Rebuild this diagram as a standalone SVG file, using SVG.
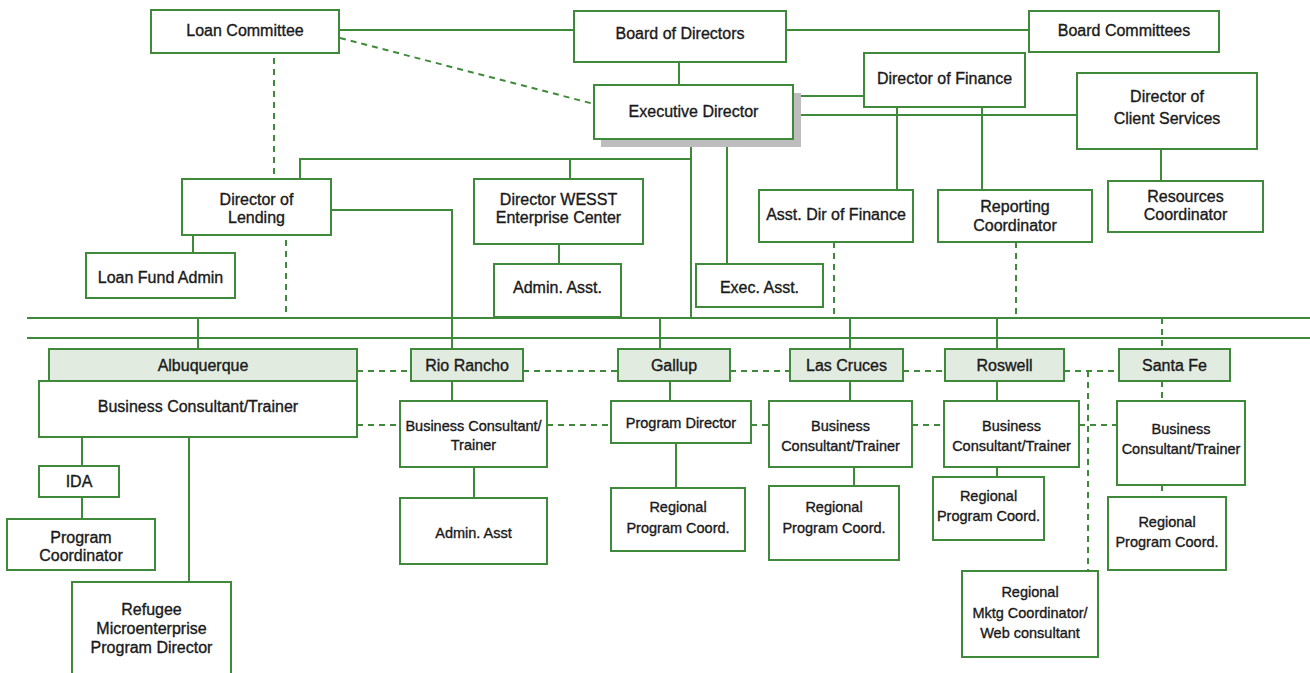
<svg xmlns="http://www.w3.org/2000/svg" width="1310" height="673" viewBox="0 0 1310 673">
<style>
.b{fill:#fff;stroke:#3f8a3a;stroke-width:2}
.h{fill:#e1ebdf;stroke:#3f8a3a;stroke-width:2}
.l{fill:none;stroke:#3f8a3a;stroke-width:2}
.d{fill:none;stroke:#3f8a3a;stroke-width:2;stroke-dasharray:6 5}
text{font-family:"Liberation Sans",Arial,sans-serif;font-size:16px;fill:#1a1a1a;stroke:#1a1a1a;stroke-width:0.35;text-anchor:middle}
.s{font-size:14.5px}
</style>
<rect width="1310" height="673" fill="#fff"/>
<g id="connectors">
<line class="l" x1="339" y1="30" x2="574" y2="30"/>
<line class="l" x1="786" y1="30" x2="1029" y2="30"/>
<line class="d" x1="340" y1="38" x2="594" y2="104"/>
<line class="l" x1="679" y1="62" x2="679" y2="85"/>
<line class="l" x1="801" y1="96" x2="864" y2="96"/>
<line class="l" x1="801" y1="115" x2="1077" y2="115"/>
<line class="d" x1="274" y1="58" x2="274" y2="179"/>
<polyline class="l" points="300,179 300,159 691,159"/>
<line class="l" x1="691" y1="147" x2="691" y2="318"/>
<line class="l" x1="570" y1="159" x2="570" y2="179"/>
<line class="l" x1="559" y1="244" x2="559" y2="264"/>
<line class="l" x1="727" y1="147" x2="727" y2="264"/>
<line class="l" x1="897" y1="107" x2="897" y2="190"/>
<line class="l" x1="982" y1="107" x2="982" y2="190"/>
<line class="l" x1="1161" y1="149" x2="1161" y2="181"/>
<line class="l" x1="193" y1="235" x2="193" y2="253"/>
<line class="d" x1="286" y1="240" x2="286" y2="314"/>
<line class="d" x1="834" y1="242" x2="834" y2="314"/>
<line class="d" x1="1016" y1="242" x2="1016" y2="317"/>
<polyline class="l" points="331,210 452,210 452,349"/>
<line class="l" x1="27" y1="318" x2="1310" y2="318"/>
<line class="l" x1="27" y1="338" x2="1310" y2="338"/>
<line class="l" x1="198" y1="318" x2="198" y2="349"/>
<line class="l" x1="660" y1="318" x2="660" y2="349"/>
<line class="l" x1="850" y1="318" x2="850" y2="349"/>
<line class="l" x1="997" y1="318" x2="997" y2="349"/>
<line class="d" x1="1162" y1="318" x2="1162" y2="349"/>
<line class="d" x1="357" y1="371" x2="411" y2="371"/>
<line class="d" x1="523" y1="371" x2="618" y2="371"/>
<line class="d" x1="730" y1="371" x2="790" y2="371"/>
<line class="d" x1="903" y1="371" x2="945" y2="371"/>
<line class="d" x1="1064" y1="371" x2="1119" y2="371"/>
<line class="d" x1="1088" y1="371" x2="1088" y2="571"/>
<line class="d" x1="357" y1="425" x2="400" y2="425"/>
<line class="d" x1="547" y1="425" x2="611" y2="425"/>
<line class="d" x1="751" y1="425" x2="769" y2="425"/>
<line class="d" x1="912" y1="425" x2="944" y2="425"/>
<line class="d" x1="1079" y1="425" x2="1117" y2="425"/>
<line class="l" x1="82" y1="437" x2="82" y2="466"/>
<line class="l" x1="82" y1="497" x2="82" y2="519"/>
<line class="l" x1="189" y1="437" x2="189" y2="582"/>
<line class="l" x1="452" y1="381" x2="452" y2="401"/>
<line class="l" x1="474" y1="467" x2="474" y2="498"/>
<line class="l" x1="670" y1="381" x2="670" y2="401"/>
<line class="l" x1="676" y1="443" x2="676" y2="488"/>
<line class="l" x1="850" y1="381" x2="850" y2="401"/>
<line class="l" x1="854" y1="467" x2="854" y2="486"/>
<line class="l" x1="997" y1="381" x2="997" y2="401"/>
<line class="l" x1="997" y1="467" x2="997" y2="477"/>
<line class="d" x1="1162" y1="381" x2="1162" y2="401"/>
<line class="d" x1="1162" y1="485" x2="1162" y2="497"/>
</g>
<g id="loan-committee"><rect class="b" x="151" y="10" width="188" height="43"/><text x="245" y="35.5">Loan Committee</text></g>
<g id="board-of-directors"><rect class="b" x="574" y="11" width="212" height="51"/><text x="680" y="39">Board of Directors</text></g>
<g id="board-committees"><rect class="b" x="1029" y="11" width="190" height="41"/><text x="1124" y="35.5">Board Committees</text></g>
<g id="executive-director"><rect x="601" y="93" width="200" height="54" fill="#bdbdbd"/><rect class="b" x="594" y="85" width="199" height="54"/><text x="693.5" y="116.5">Executive Director</text></g>
<g id="director-of-finance"><rect class="b" x="864" y="53" width="161" height="54"/><text x="944.5" y="83.5">Director of Finance</text></g>
<g id="director-client-services"><rect class="b" x="1077" y="73" width="180" height="76"/><text x="1167" y="101.5">Director of</text><text x="1167" y="123.5">Client Services</text></g>
<g id="director-of-lending"><rect class="b" x="182" y="179" width="149" height="56"/><text x="256.5" y="204.5">Director of</text><text x="256.5" y="222.5">Lending</text></g>
<g id="director-wesst"><rect class="b" x="474" y="179" width="169" height="65"/><text x="558.5" y="204.5">Director WESST</text><text x="558.5" y="222.5">Enterprise Center</text></g>
<g id="asst-dir-finance"><rect class="b" x="759" y="190" width="154" height="52"/><text x="836" y="219.5">Asst. Dir of Finance</text></g>
<g id="reporting-coordinator"><rect class="b" x="938" y="190" width="154" height="52"/><text x="1015" y="211.5">Reporting</text><text x="1015" y="230.5">Coordinator</text></g>
<g id="resources-coordinator"><rect class="b" x="1108" y="181" width="155" height="51"/><text x="1185.5" y="201.5">Resources</text><text x="1185.5" y="219.5">Coordinator</text></g>
<g id="loan-fund-admin"><rect class="b" x="86" y="253" width="149" height="45"/><text x="160.5" y="282.5">Loan Fund Admin</text></g>
<g id="admin-asst-wesst"><rect class="b" x="494" y="264" width="127" height="53"/><text x="557.5" y="292.5">Admin. Asst.</text></g>
<g id="exec-asst"><rect class="b" x="696" y="264" width="127" height="43"/><text x="759.5" y="292.5">Exec. Asst.</text></g>
<g id="albuquerque"><rect class="h" x="49" y="349" width="308" height="32"/><text x="203" y="370.5">Albuquerque</text></g>
<g id="abq-bct"><rect class="b" x="39" y="381" width="318" height="56"/><text x="198" y="411.5">Business Consultant/Trainer</text></g>
<g id="ida"><rect class="b" x="39" y="466" width="80" height="31"/><text x="79" y="486.5">IDA</text></g>
<g id="abq-program-coordinator"><rect class="b" x="7" y="519" width="148" height="51"/><text x="81" y="542.5">Program</text><text x="81" y="560.5">Coordinator</text></g>
<g id="refugee"><rect class="b" x="72" y="582" width="159" height="100"/><text x="151.5" y="614.5">Refugee</text><text x="151.5" y="633.5">Microenterprise</text><text x="151.5" y="652.5">Program Director</text></g>
<g id="rio-rancho"><rect class="h" x="411" y="349" width="112" height="32"/><text x="467" y="370.5">Rio Rancho</text></g>
<g id="rio-bct"><rect class="b" x="400" y="401" width="147" height="66"/><text class="s" x="473.5" y="431">Business Consultant/</text><text class="s" x="473.5" y="450">Trainer</text></g>
<g id="rio-admin-asst"><rect class="b" x="400" y="498" width="147" height="66"/><text class="s" x="473.5" y="538">Admin. Asst</text></g>
<g id="gallup"><rect class="h" x="618" y="349" width="112" height="32"/><text x="674" y="370.5">Gallup</text></g>
<g id="gallup-program-director"><rect class="b" x="611" y="401" width="140" height="42"/><text class="s" x="681" y="428">Program Director</text></g>
<g id="gallup-rpc"><rect class="b" x="611" y="488" width="134" height="63"/><text class="s" x="678" y="512">Regional</text><text class="s" x="678" y="533">Program Coord.</text></g>
<g id="las-cruces"><rect class="h" x="790" y="349" width="113" height="32"/><text x="846.5" y="370.5">Las Cruces</text></g>
<g id="lc-bct"><rect class="b" x="769" y="401" width="143" height="66"/><text class="s" x="840.5" y="431">Business</text><text class="s" x="840.5" y="451">Consultant/Trainer</text></g>
<g id="lc-rpc"><rect class="b" x="769" y="486" width="130" height="74"/><text class="s" x="834" y="512">Regional</text><text class="s" x="834" y="533">Program Coord.</text></g>
<g id="roswell"><rect class="h" x="945" y="349" width="119" height="32"/><text x="1004.5" y="370.5">Roswell</text></g>
<g id="roswell-bct"><rect class="b" x="944" y="401" width="135" height="66"/><text class="s" x="1011.5" y="431">Business</text><text class="s" x="1011.5" y="451">Consultant/Trainer</text></g>
<g id="roswell-rpc"><rect class="b" x="933" y="477" width="111" height="63"/><text class="s" x="988.5" y="501">Regional</text><text class="s" x="988.5" y="521">Program Coord.</text></g>
<g id="regional-mktg"><rect class="b" x="962" y="571" width="136" height="86"/><text class="s" x="1030" y="597">Regional</text><text class="s" x="1030" y="618">Mktg Coordinator/</text><text class="s" x="1030" y="638">Web consultant</text></g>
<g id="santa-fe"><rect class="h" x="1119" y="349" width="111" height="32"/><text x="1174.5" y="370.5">Santa Fe</text></g>
<g id="sf-bct"><rect class="b" x="1117" y="401" width="128" height="84"/><text class="s" x="1181" y="434">Business</text><text class="s" x="1181" y="454">Consultant/Trainer</text></g>
<g id="sf-rpc"><rect class="b" x="1108" y="497" width="118" height="73"/><text class="s" x="1167" y="527">Regional</text><text class="s" x="1167" y="547">Program Coord.</text></g>
</svg>
